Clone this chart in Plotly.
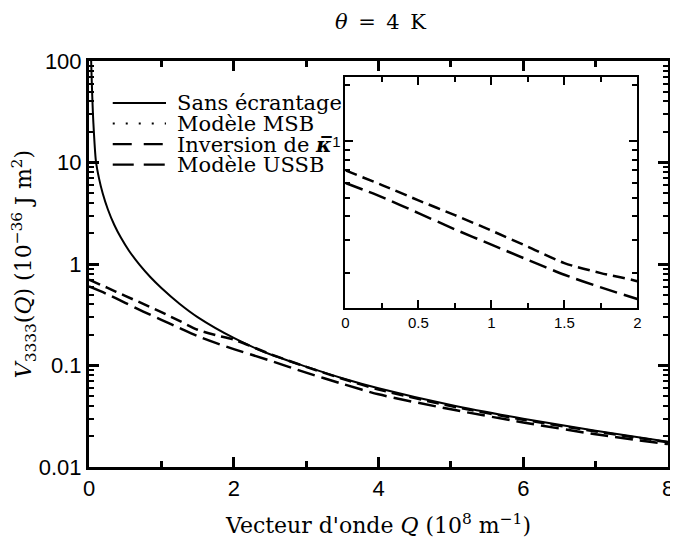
import plotly.graph_objects as go

# ---------------- data ----------------
q_sans = [0.028, 0.035, 0.045, 0.06, 0.095, 0.14, 0.19, 0.26, 0.35, 0.44, 0.55, 0.7, 0.85,
          1.0, 1.25, 1.5, 2.0, 2.5, 3.0, 3.5, 4.0, 5.0, 6.0, 7.0, 8.0]
v_sans = [110, 75, 45, 25, 10.4, 6.9, 4.95, 3.46, 2.42, 1.82, 1.36, 0.98, 0.74,
          0.58, 0.406, 0.30, 0.187, 0.129, 0.0975, 0.075, 0.0597, 0.0408, 0.0299, 0.0228, 0.0177]

q_msb = [None]
v_msb = [None]

q_dash = [0.0, 0.25, 0.5, 0.75, 1.0, 1.25, 1.5, 1.75, 2.0, 2.5, 3.0, 3.5, 4.0, 5.0, 6.0, 7.0, 8.0]
v_inv = [0.70, 0.585, 0.485, 0.405, 0.335, 0.275, 0.225, 0.199, 0.18, 0.13, 0.097, 0.074, 0.058,
         0.0398, 0.0292, 0.0224, 0.0175]
v_ussb = [0.60, 0.505, 0.415, 0.34, 0.282, 0.234, 0.195, 0.167, 0.145, 0.112, 0.085, 0.066,
          0.052, 0.037, 0.0275, 0.021, 0.0168]

series_names = ["Sans écrantage", "Modèle MSB", "Inversion de <b><i>κ̅</i></b>", "Modèle USSB"]

x_ticks = [0, 2, 4, 6, 8]
x_minor = [1, 3, 5, 7]
y_ticks = [0.01, 0.1, 1, 10, 100]
y_labels = ["0.01", "0.1", "1", "10", "100"]
y_minor = [m * 10 ** k for k in range(-2, 2) for m in range(2, 10)]

ix_ticks = [0, 0.5, 1, 1.5, 2]
ix_labels = ["0", "0.5", "1", "1.5", "2"]
ix_minor = [0.25, 0.75, 1.25, 1.75]
iy_ticks = [1]
iy_minor = [0.2, 0.3, 0.4, 0.5, 0.6, 0.7, 0.8, 0.9, 2]

SERIF = "DejaVu Serif"
SANS = "Liberation Sans"

styles = [
    dict(color="black", width=2),
    dict(color="black", width=2, dash="2px,5px"),
    dict(color="black", width=2.5, dash="12px,6px"),
    dict(color="black", width=2.5, dash="18px,7px"),
]
legend_dash = [None, "2px,11px", "19px,12px", "21px,10px"]

fig = go.Figure()
fig.add_trace(go.Scatter(x=q_sans, y=v_sans, mode="lines", name=series_names[0],
                         line=dict(**styles[0], shape="spline", smoothing=0.7)))
fig.add_trace(go.Scatter(x=q_msb, y=v_msb, mode="lines", name=series_names[1],
                         line=styles[1]))
fig.add_trace(go.Scatter(x=q_dash, y=v_inv, mode="lines", name=series_names[2],
                         line=dict(**styles[2], shape="spline", smoothing=0.7)))
fig.add_trace(go.Scatter(x=q_dash, y=v_ussb, mode="lines", name=series_names[3],
                         line=dict(**styles[3], shape="spline", smoothing=0.7)))

# inset
fig.add_trace(go.Scatter(x=q_dash, y=v_inv, mode="lines", name=series_names[2],
                         xaxis="x2", yaxis="y2",
                         line=dict(**styles[2], shape="spline", smoothing=0.7)))
fig.add_trace(go.Scatter(x=q_dash, y=v_ussb, mode="lines", name=series_names[3],
                         xaxis="x2", yaxis="y2",
                         line=dict(**styles[3], shape="spline", smoothing=0.7)))

# legend drawn in paper coordinates (keeps the compact row spacing of the original)
row_y = [0.8966, 0.8460, 0.7955, 0.7450]
for i, name in enumerate(series_names):
    ln = dict(color="black", width=2.2)
    if legend_dash[i]:
        ln["dash"] = legend_dash[i]
    fig.add_shape(type="line", xref="paper", yref="paper",
                  x0=0.041, x1=0.133, y0=row_y[i], y1=row_y[i], line=ln)
    fig.add_annotation(xref="paper", yref="paper", x=0.148, y=row_y[i],
                       xanchor="left", yanchor="middle", showarrow=False,
                       text=name, font=dict(family=SERIF, size=21, color="black"))

axis_common = dict(ticks="inside", tickcolor="black", showline=True, linecolor="black",
                   mirror="allticks", showgrid=False, zeroline=False, automargin=False)

# the page adds an 8 px body margin, so the figure is 8 px smaller than the window
fig.update_layout(
    width=670, height=538,
    margin=dict(l=81, r=10, t=53, b=79),
    paper_bgcolor="white", plot_bgcolor="white",
    showlegend=False,
    title=dict(text="<i>θ</i>\u2002=\u20024\u2002K", x=0.556, xanchor="center",
               y=0.974, yanchor="middle",
               font=dict(family=SERIF, size=21, color="black")),
    xaxis=dict(range=[0, 8], tickmode="array", tickvals=x_ticks,
               ticktext=[str(t) for t in x_ticks], ticklen=10, tickwidth=2.5,
               minor=dict(tickmode="array", tickvals=x_minor, ticks="inside", ticklen=6,
                          tickwidth=2.5, tickcolor="black"),
               linewidth=3,
               tickfont=dict(family=SANS, size=22, color="black"),
               title=dict(text="Vecteur d'onde <i>Q</i> (10<sup>8</sup> m<sup>−1</sup>)",
                          font=dict(family=SERIF, size=22, color="black"), standoff=18),
               **axis_common),
    yaxis=dict(type="log", range=[-2, 2], tickmode="array", tickvals=y_ticks,
               ticktext=y_labels, ticklen=10, tickwidth=2.5,
               minor=dict(tickmode="array", tickvals=y_minor, ticks="inside", ticklen=5,
                          tickwidth=2, tickcolor="black"),
               linewidth=3,
               tickfont=dict(family=SANS, size=22, color="black"),
               title=dict(text="<i>V</i><sub>3333</sub>(<i>Q</i>) (10<sup>−36</sup> J m<sup>2</sup>)",
                          font=dict(family=SERIF, size=22, color="black")),
               **axis_common),
    xaxis2=dict(domain=[0.443, 0.947], anchor="y2", range=[0, 2],
                tickmode="array", tickvals=ix_ticks, ticktext=ix_labels,
                ticklen=8, tickwidth=2,
                minor=dict(tickmode="array", tickvals=ix_minor, ticks="inside", ticklen=5,
                           tickwidth=2, tickcolor="black"),
                linewidth=2,
                tickfont=dict(family=SANS, size=15, color="black"),
                **axis_common),
    yaxis2=dict(domain=[0.392, 0.961], anchor="x2", type="log", range=[-0.886, 0.343],
                tickmode="array", tickvals=iy_ticks, ticktext=["1"],
                ticklen=8, tickwidth=2,
                minor=dict(tickmode="array", tickvals=iy_minor, ticks="inside", ticklen=5,
                           tickwidth=2, tickcolor="black"),
                linewidth=2,
                tickfont=dict(family=SANS, size=15, color="black"),
                **axis_common),
)

fig.write_html("out.html")
